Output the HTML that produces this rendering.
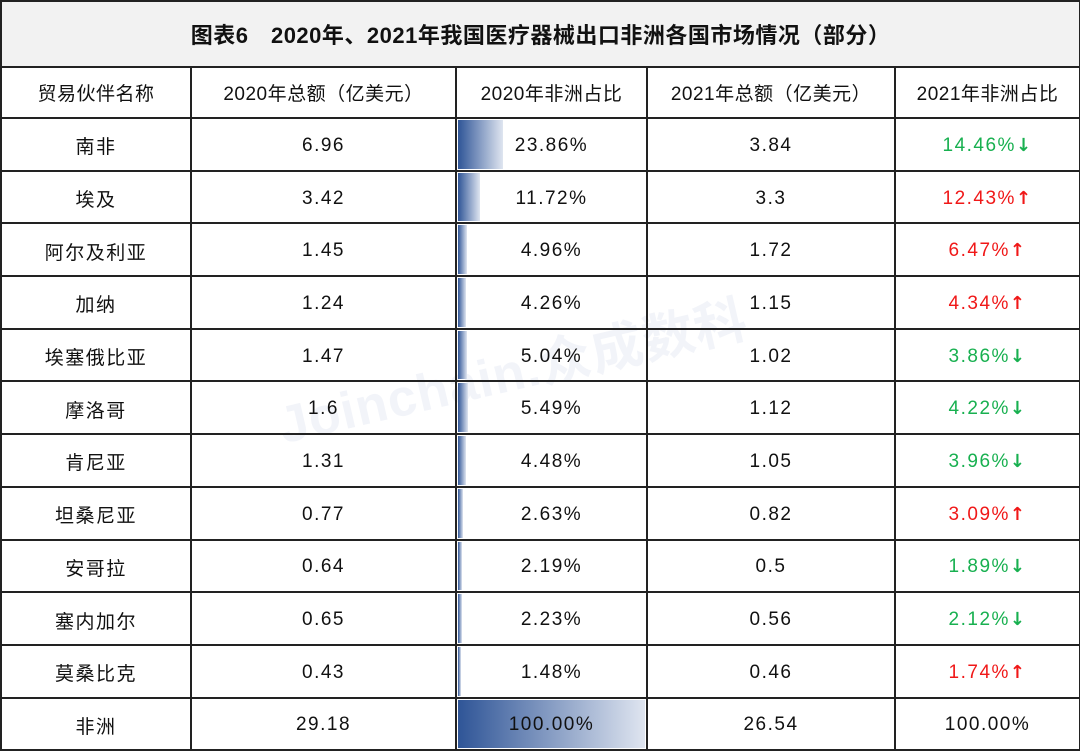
<!DOCTYPE html>
<html><head><meta charset="utf-8"><style>
body{margin:0;width:1080px;height:753px;background:#fff;font-family:"Liberation Sans","Noto Sans CJK SC",sans-serif;overflow:hidden;position:relative}
table{position:absolute;left:0;top:0;border-collapse:collapse;width:1079px;table-layout:fixed}
td{border:2px solid #222;height:47.7px;padding:3px 0 0 0;text-align:center;font-size:19px;color:#111;letter-spacing:1.5px;position:relative}
.t td{height:64px;padding:0;background:#f2f2f2;font-size:22px;font-weight:bold;letter-spacing:0.5px}
.h td{height:49px;padding:0;letter-spacing:0.5px}
.bar{position:absolute;left:1px;top:1px;bottom:1px;background:linear-gradient(to right,#2f5597,#dfe5f0)}
.v{position:relative}
.g{color:#18b050}.r{color:#f01818}
b{font-family:"DejaVu Sans",sans-serif;font-weight:bold;font-size:18px}
.wm{position:absolute;left:270px;top:385px;font-size:52px;font-weight:bold;color:rgba(190,200,225,0.2);transform:rotate(-13deg);transform-origin:left top;white-space:nowrap;letter-spacing:1px}
</style></head><body>
<div class="wm">Joinchain.众成数科</div>
<table>
<colgroup><col style="width:190px"><col style="width:265px"><col style="width:191px"><col style="width:248px"><col style="width:185px"></colgroup>
<tr class="t"><td colspan="5">图表6　2020年、2021年我国医疗器械出口非洲各国市场情况（部分）</td></tr>
<tr class="h"><td>贸易伙伴名称</td><td>2020年总额（亿美元）</td><td>2020年非洲占比</td><td>2021年总额（亿美元）</td><td>2021年非洲占比</td></tr>
<tr><td>南非</td><td>6.96</td><td><div class="bar" style="width:45px"></div><span class="v">23.86%</span></td><td>3.84</td><td class="g">14.46%<b>↓</b></td></tr>
<tr><td>埃及</td><td>3.42</td><td><div class="bar" style="width:22px"></div><span class="v">11.72%</span></td><td>3.3</td><td class="r">12.43%<b>↑</b></td></tr>
<tr><td>阿尔及利亚</td><td>1.45</td><td><div class="bar" style="width:9px"></div><span class="v">4.96%</span></td><td>1.72</td><td class="r">6.47%<b>↑</b></td></tr>
<tr><td>加纳</td><td>1.24</td><td><div class="bar" style="width:8px"></div><span class="v">4.26%</span></td><td>1.15</td><td class="r">4.34%<b>↑</b></td></tr>
<tr><td>埃塞俄比亚</td><td>1.47</td><td><div class="bar" style="width:9px"></div><span class="v">5.04%</span></td><td>1.02</td><td class="g">3.86%<b>↓</b></td></tr>
<tr><td>摩洛哥</td><td>1.6</td><td><div class="bar" style="width:10px"></div><span class="v">5.49%</span></td><td>1.12</td><td class="g">4.22%<b>↓</b></td></tr>
<tr><td>肯尼亚</td><td>1.31</td><td><div class="bar" style="width:8px"></div><span class="v">4.48%</span></td><td>1.05</td><td class="g">3.96%<b>↓</b></td></tr>
<tr><td>坦桑尼亚</td><td>0.77</td><td><div class="bar" style="width:5px"></div><span class="v">2.63%</span></td><td>0.82</td><td class="r">3.09%<b>↑</b></td></tr>
<tr><td>安哥拉</td><td>0.64</td><td><div class="bar" style="width:4px"></div><span class="v">2.19%</span></td><td>0.5</td><td class="g">1.89%<b>↓</b></td></tr>
<tr><td>塞内加尔</td><td>0.65</td><td><div class="bar" style="width:4px"></div><span class="v">2.23%</span></td><td>0.56</td><td class="g">2.12%<b>↓</b></td></tr>
<tr><td>莫桑比克</td><td>0.43</td><td><div class="bar" style="width:3px"></div><span class="v">1.48%</span></td><td>0.46</td><td class="r">1.74%<b>↑</b></td></tr>
<tr><td>非洲</td><td>29.18</td><td><div class="bar" style="width:187px"></div><span class="v">100.00%</span></td><td>26.54</td><td>100.00%</td></tr>
</table>
</body></html>
